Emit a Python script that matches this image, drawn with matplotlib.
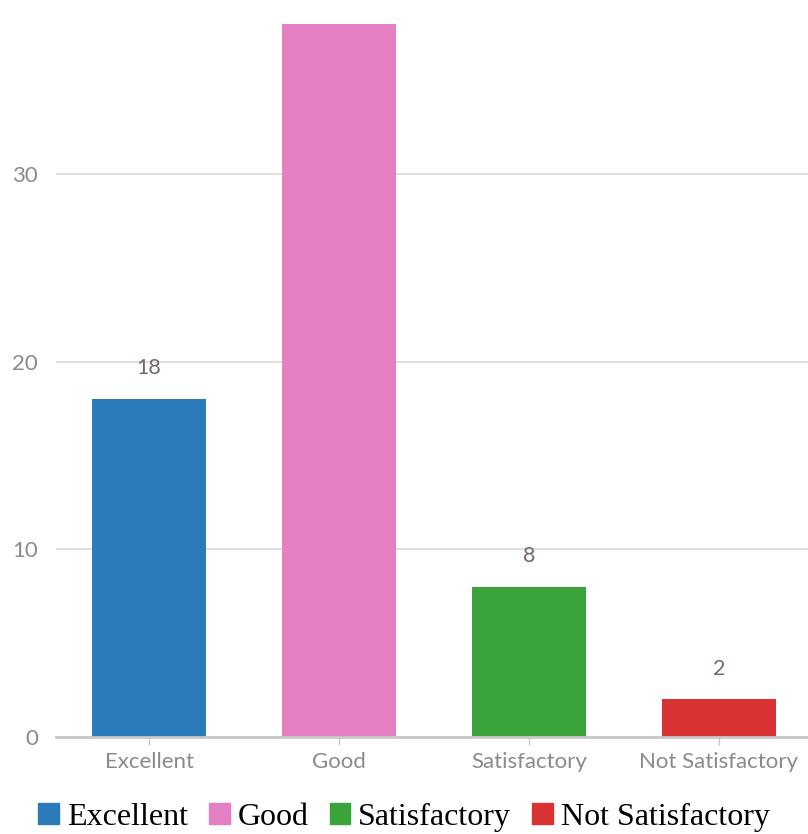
import matplotlib.pyplot as plt
import matplotlib.patches as mpatches

categories = ['Excellent', 'Good', 'Satisfactory', 'Not Satisfactory']
counts = [18, 38, 8, 2]
colors = ['#2b7bba', '#e47fc4', '#3aa33a', '#d93333']
yticks = [0, 10, 20, 30]

fig = plt.figure(figsize=(8.08, 8.34), dpi=100)
ax = fig.add_axes([56 / 808, 97 / 834, 752 / 808, 737 / 834])

x = range(len(categories))
ax.bar(x, counts, width=0.6, color=colors, zorder=2)

# value labels above bars
for i, v in enumerate(counts):
    ax.annotate(str(v), (i, v), textcoords='offset points', xytext=(0, 15),
                ha='center', va='bottom', fontsize=15.5, color='#7a6666',
                family='Lato', annotation_clip=False)

ax.set_xlim(-0.49, 3.47)
ax.set_ylim(0, 39.26)
ax.set_yticks(yticks)
ax.set_xticks(list(x))
ax.set_xticklabels(categories)

for s in ['top', 'right', 'left']:
    ax.spines[s].set_visible(False)
ax.spines['bottom'].set_color('#c8c8c8')
ax.spines['bottom'].set_linewidth(2)

ax.grid(axis='y', color='#dcdcdc', linewidth=1.3, zorder=0)
ax.set_axisbelow(True)

ax.tick_params(axis='y', length=0, pad=13, labelsize=16, labelcolor='#8a8a8a')
ax.tick_params(axis='x', length=6, width=1, color='#c8c8c8', pad=5,
               labelsize=16, labelcolor='#8a8a8a')
for lab in ax.get_xticklabels() + ax.get_yticklabels():
    lab.set_family('Lato')

handles = [mpatches.Patch(color=c, label=l) for c, l in zip(colors, categories)]
fig.legend(handles=handles, loc='center', bbox_to_anchor=(0.5, 17 / 834),
           ncol=4, frameon=False, prop={'family': 'Liberation Serif', 'size': 23},
           handlelength=0.65, handleheight=0.65, handletextpad=0.25,
           columnspacing=0.65, borderaxespad=0, borderpad=0)

fig.savefig('out.png', dpi=100)
